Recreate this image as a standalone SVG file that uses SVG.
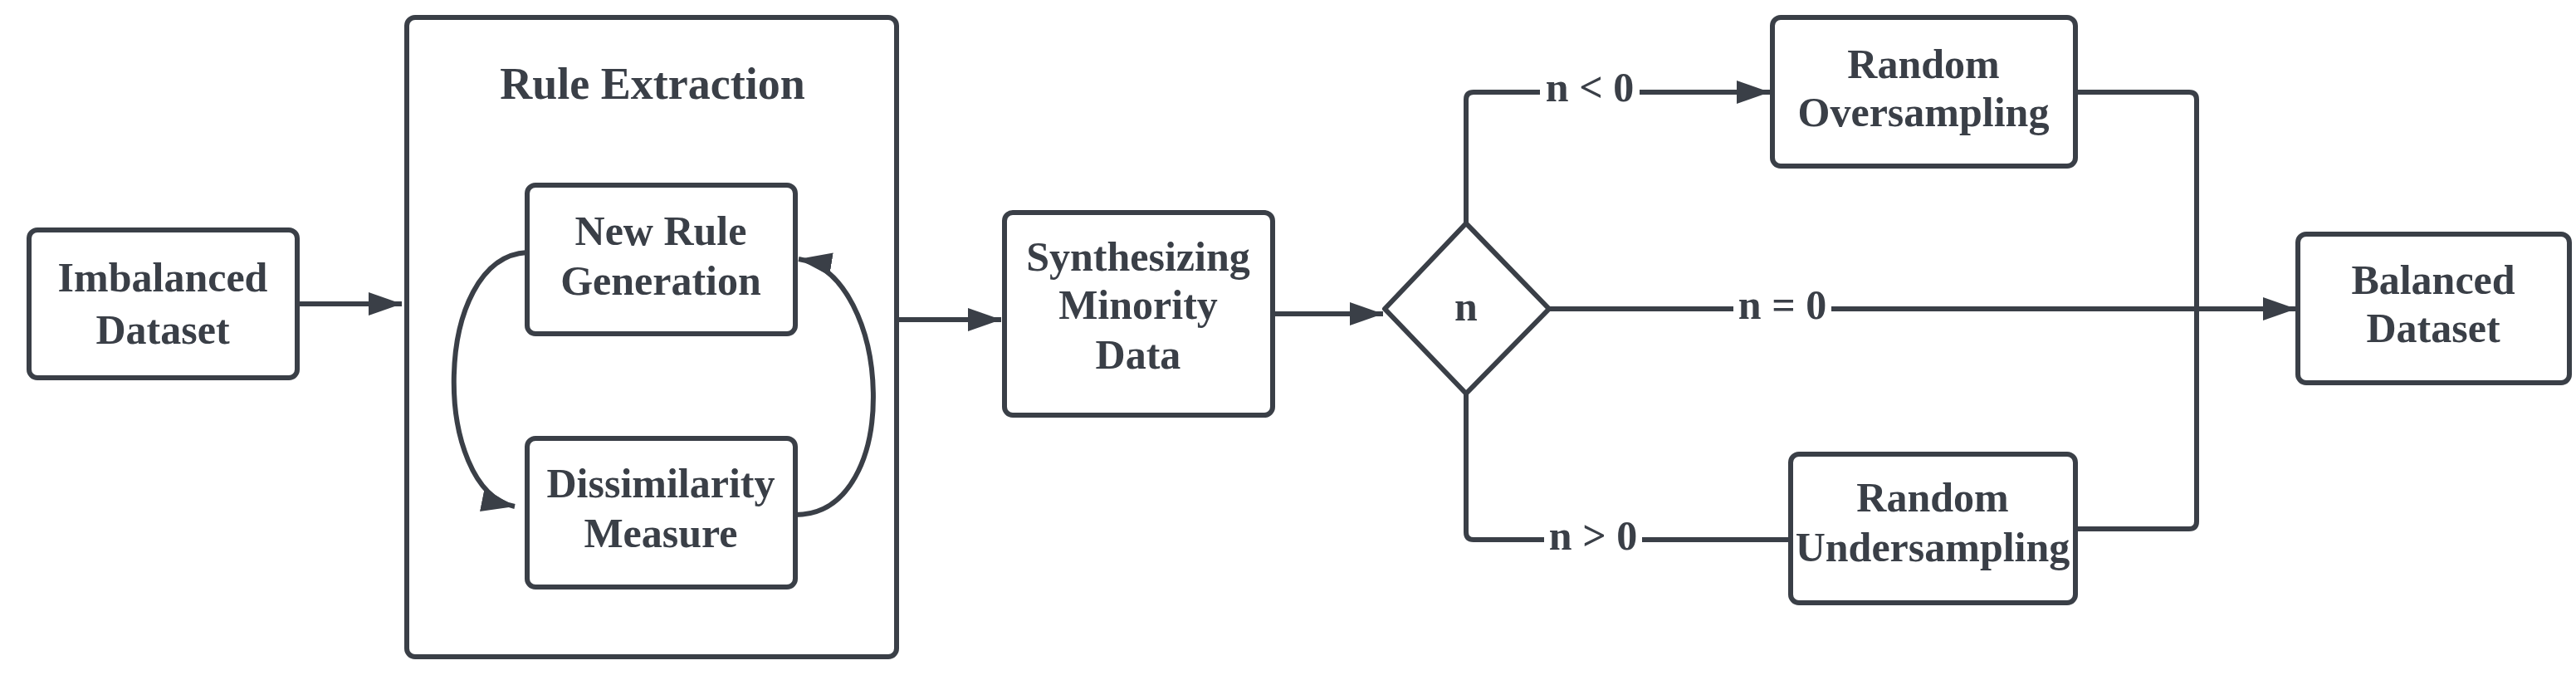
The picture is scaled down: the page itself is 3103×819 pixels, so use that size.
<svg xmlns="http://www.w3.org/2000/svg" width="3103" height="819" viewBox="0 0 3103 819">
<style>
.n{fill:#fff;stroke:#3a3f47;stroke-width:6}
.t{font-family:"Liberation Serif",serif;font-weight:bold;font-size:50px;fill:#3a3f47;text-anchor:middle}
.c{fill:none;stroke:#3a3f47;stroke-width:6}
.lb{fill:#fff}
</style>
<defs>
<marker id="a" markerUnits="userSpaceOnUse" markerWidth="40" markerHeight="40" refX="40" refY="20" orient="auto" viewBox="0 0 40 40">
<path d="M0,6 L40,20 L0,34 Z" fill="#3a3f47"/>
</marker>
</defs>
<rect width="3103" height="819" fill="#fff"/>
<g id="connectors">
<path class="c" d="M358,366 H484" marker-end="url(#a)"/>
<path class="c" d="M1082,385 H1206" marker-end="url(#a)"/>
<path class="c" d="M1534,378 H1666" marker-end="url(#a)"/>
<path class="c" d="M635,304 C520,310 520,590 620,610" marker-end="url(#a)"/>
<path class="c" d="M958,620 C1090,620 1075,330 962,312" marker-end="url(#a)"/>
<path class="c" d="M1766,269 V120 Q1766,111 1775,111 H2132" marker-end="url(#a)"/>
<path class="c" d="M1766,474 V641 Q1766,650 1775,650 H2157"/>
<path class="c" d="M1866,372 H2766" marker-end="url(#a)"/>
<path class="c" d="M2500,111 H2637 Q2646,111 2646,120 V628 Q2646,637 2637,637 H2500"/>
<rect class="lb" x="1855" y="82" width="120" height="54"/>
<text class="t" x="1915" y="122">n &lt; 0</text>
<rect class="lb" x="2088" y="344" width="118" height="54"/>
<text class="t" x="2147" y="384">n = 0</text>
<rect class="lb" x="1860" y="622" width="118" height="54"/>
<text class="t" x="1919" y="662">n &gt; 0</text>
</g>
<g id="imbalanced"><rect class="n" x="35" y="277" width="323" height="178" rx="10"/><text class="t" x="196" y="351">Imbalanced</text><text class="t" x="196" y="414">Dataset</text></g>
<g id="rule-extraction"><rect class="n" x="490" y="21" width="590" height="770" rx="10" style="fill:none"/><text class="t" x="786" y="119" style="font-size:54px">Rule Extraction</text></g>
<g id="new-rule"><rect class="n" x="635" y="223" width="323" height="179" rx="10"/><text class="t" x="796" y="295">New Rule</text><text class="t" x="796" y="355">Generation</text></g>
<g id="dissimilarity"><rect class="n" x="635" y="528" width="323" height="179" rx="10"/><text class="t" x="796" y="599">Dissimilarity</text><text class="t" x="796" y="659">Measure</text></g>
<g id="synthesizing"><rect class="n" x="1210" y="256" width="323" height="244" rx="10"/><text class="t" x="1371" y="326">Synthesizing</text><text class="t" x="1371" y="384">Minority</text><text class="t" x="1371" y="444">Data</text></g>
<g id="decision"><path class="n" d="M1766,269 L1866,372 L1766,474 L1668,372 Z" stroke-linejoin="round"/><text class="t" x="1766" y="386">n</text></g>
<g id="oversampling"><rect class="n" x="2135" y="21" width="365" height="179" rx="10"/><text class="t" x="2317" y="94">Random</text><text class="t" x="2317" y="152">Oversampling</text></g>
<g id="undersampling"><rect class="n" x="2157" y="547" width="343" height="179" rx="10"/><text class="t" x="2328" y="616">Random</text><text class="t" x="2328" y="676">Undersampling</text></g>
<g id="balanced"><rect class="n" x="2768" y="282" width="327" height="179" rx="10"/><text class="t" x="2931" y="354">Balanced</text><text class="t" x="2931" y="412">Dataset</text></g>
</svg>
